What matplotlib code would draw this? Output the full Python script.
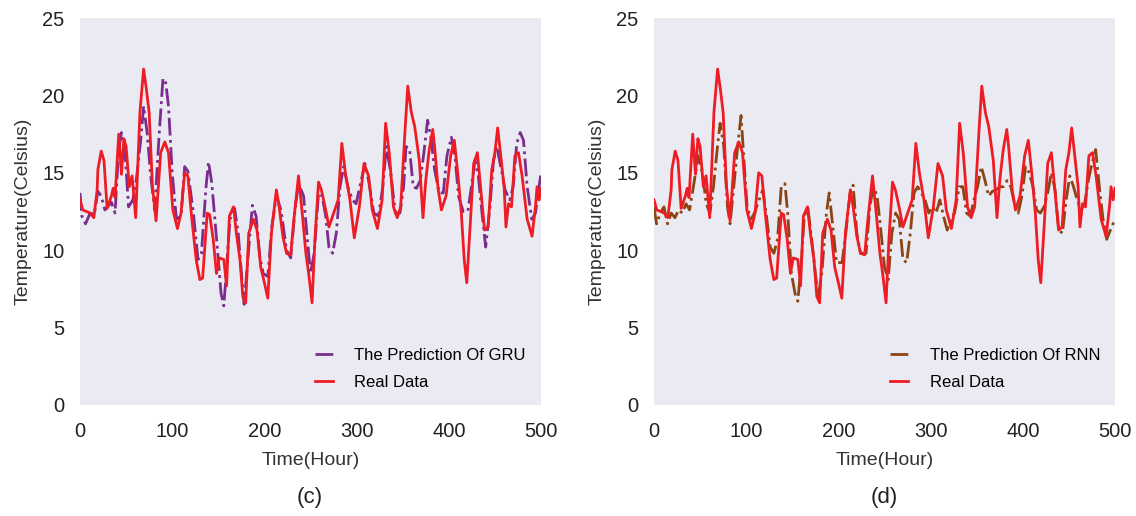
import matplotlib.pyplot as plt

plt.rcParams['font.family'] = ['Liberation Sans', 'DejaVu Sans']

# real temperature (same series in both panels)
real_t = [0, 3, 11, 15, 18.6, 19.4, 23, 26, 29.4, 34, 36, 38, 42, 45, 47.6, 50, 53.5, 56.5, 60.4, 65,
          69, 72, 75, 78.6, 82.5, 87.5, 92, 96, 100.7, 105.7, 109.6, 113.5, 117, 121, 126, 130, 133, 138,
          140.6, 144.5, 148, 151, 156, 159, 162, 166.5, 169.6, 173.5, 176.6, 179.7, 183, 188, 192, 196, 200,
          203.7, 207.6, 213, 216, 220, 224, 228.5, 232, 237, 241, 245, 248, 251.7, 254.8, 258.7, 261.8,
          266.5, 270, 274, 280, 284, 287.8, 292.8, 297.5, 303, 308, 313, 317, 322.6, 327.7, 331.5, 335.4,
          340, 344, 347.8, 352.4, 355.5, 359.4, 363, 368, 372, 375, 378.8, 382.6, 384.6, 388.5, 392, 397,
          402, 406, 410, 413.6, 416.7, 419.5, 423.3, 427, 431, 435, 438.8, 442.7, 446.6, 450, 453, 456,
          460, 462, 464.8, 468, 471.7, 475.6, 479.5, 485, 490.3, 494, 495.7, 498, 500]
real_v = [13.25, 12.6, 12.4, 12.1, 13.9, 15.2, 16.4, 15.8, 12.7, 13.5, 14.0, 13.4, 17.5, 14.9, 17.2, 16.7,
          14.1, 14.8, 12.1, 18.9, 21.7, 20.4, 18.9, 14.1, 11.9, 16.3, 17.0, 16.3, 12.6, 11.4, 12.4, 15.0,
          14.8, 12.2, 9.4, 8.1, 8.2, 12.4, 12.3, 10.7, 8.5, 9.5, 9.4, 7.7, 12.2, 12.8, 11.1, 9.4, 7.0, 6.6,
          11.1, 12.0, 11.3, 8.9, 7.9, 6.9, 11.1, 13.9, 12.8, 10.9, 9.8, 9.7, 12.0, 14.8, 12.4, 9.8, 8.5,
          6.6, 10.7, 14.4, 13.9, 12.6, 11.5, 12.2, 13.25, 16.9, 15.0, 13.25, 10.8, 12.8, 15.6, 14.8, 12.6,
          11.4, 13.25, 18.2, 16.3, 12.8, 12.1, 12.8, 17.6, 20.6, 18.9, 18.0, 15.8, 12.1, 14.5, 16.5, 17.8,
          16.7, 13.9, 12.6, 13.5, 16.1, 17.1, 14.8, 12.4, 9.4, 7.9, 11.7, 15.6, 16.3, 13.7, 11.3, 11.5,
          15.2, 16.3, 17.9, 16.3, 14.1, 11.5, 13.0, 12.8, 16.1, 16.3, 14.8, 12.0, 10.9, 12.8, 14.1, 13.25,
          14.0]

# GRU prediction
gru_t = [0, 2, 6, 11, 15.5, 19.4, 23, 27, 30, 34, 38, 42, 45, 49, 52.7, 57.3, 61, 65.8, 69, 72.8, 76.7,
         81, 86, 90, 93, 96, 100, 104.6, 109.6, 113.5, 117, 123, 128, 131.7, 136.7, 139.4, 143, 146, 150,
         153, 156, 159, 162.7, 167.7, 171.6, 175.4, 178, 182, 187, 191, 195, 198.7, 203.7, 208, 213, 218,
         224, 228.5, 233.5, 237, 242.5, 246, 250, 254, 258.7, 262.6, 266.5, 270, 274, 278, 282, 286, 290.5,
         295.5, 299.4, 305, 309, 313, 318.7, 323.8, 328.4, 332.3, 337, 342, 347, 351, 353.6, 357.5, 361.4,
         365, 369, 373, 377, 381, 384.6, 389.6, 394, 398, 402.8, 406.7, 410.5, 415.6, 420.6, 424.5, 428.4,
         432, 436, 440, 444.6, 448.5, 452, 457, 461, 466, 469.8, 473.7, 477.5, 481, 485, 490, 494, 500]
gru_v = [13.7, 12.2, 11.7, 12.4, 12.3, 13.8, 13.5, 12.6, 12.8, 13.1, 12.4, 16.5, 17.6, 16.1, 12.8, 13.25,
         14.5, 17.1, 19.3, 17.6, 14.8, 12.6, 17.6, 21.1, 20.8, 19.3, 15.0, 12.0, 12.2, 15.4, 15.1, 12.4,
         9.4, 9.8, 14.1, 15.7, 14.3, 12.2, 9.4, 7.2, 6.4, 8.9, 12.0, 12.7, 11.1, 8.3, 6.5, 9.4, 12.9, 12.2,
         9.6, 8.5, 8.3, 11.5, 13.5, 12.6, 10.0, 9.5, 12.8, 14.3, 13.5, 11.1, 8.5, 9.8, 13.7, 13.5, 12.2,
         10.2, 9.8, 11.1, 14.1, 15.4, 14.1, 13.25, 13.0, 14.5, 15.6, 14.5, 12.4, 12.2, 14.1, 16.7, 15.0,
         12.4, 12.4, 14.1, 16.7, 16.5, 14.1, 14.0, 14.5, 16.3, 18.4, 17.1, 15.2, 13.7, 13.7, 16.1, 17.3,
         16.1, 13.5, 12.5, 12.5, 14.1, 15.8, 14.8, 12.4, 10.2, 12.8, 15.8, 16.7, 15.2, 13.9, 13.25, 14.1,
         16.9, 17.6, 17.1, 14.1, 12.0, 12.4, 15.0]

# RNN prediction
rnn_t = [0, 2.8, 6.8, 10.8, 14.7, 18.7, 22.7, 26.7, 30.7, 34.7, 38.6, 43.8, 47.8, 52.6, 56.6, 60.6, 64.5,
         68.5, 71.7, 75.7, 79.7, 82.5, 86.5, 90.4, 94.4, 97.6, 101, 105, 109, 114, 118, 122, 126, 130, 134,
         138, 142, 145, 149, 153, 156, 160, 163, 167, 171, 175, 178, 182, 187, 190, 194, 198, 204, 208,
         212.7, 216, 220, 224, 230, 234, 238, 242, 246, 250, 254, 258, 262, 266, 270, 274, 278, 282, 286,
         290, 294, 298, 302, 306, 310, 314, 318, 322, 326, 331, 335, 339, 343, 347, 351, 355, 359, 363,
         367, 371, 375, 379, 383, 387, 391, 395, 399, 403, 407, 411, 415, 419, 423, 427, 431, 435, 439,
         443, 447, 451, 455, 459, 463, 467, 471, 475, 479, 483, 487, 491, 495, 500]
rnn_v = [12.8, 11.7, 12.4, 12.8, 11.7, 12.4, 12.1, 12.6, 12.4, 13.0, 12.6, 14.5, 16.1, 15.0, 13.0, 12.4,
         14.1, 16.5, 18.2, 16.7, 12.8, 11.7, 14.1, 16.5, 18.7, 15.8, 12.8, 12.0, 12.4, 13.25, 13.9, 12.2,
         10.2, 9.8, 10.7, 14.1, 14.3, 12.4, 8.5, 7.2, 6.7, 9.4, 12.2, 12.7, 10.7, 8.5, 7.0, 8.5, 12.4,
         13.7, 11.5, 9.2, 9.2, 11.1, 13.7, 14.2, 11.1, 9.8, 9.8, 12.8, 14.1, 13.5, 11.3, 8.9, 8.1, 11.1,
         12.4, 12.0, 9.4, 9.2, 11.1, 13.7, 14.1, 13.7, 13.25, 12.4, 12.8, 12.4, 13.25, 12.2, 11.3, 12.0,
         12.4, 14.1, 14.1, 12.4, 12.2, 13.25, 14.1, 15.4, 14.5, 13.5, 13.8, 13.9, 14.1, 14.1, 14.5, 14.1,
         13.0, 12.4, 13.5, 15.4, 15.0, 14.1, 12.6, 12.4, 12.8, 13.7, 15.0, 13.9, 11.3, 11.1, 13.25, 14.8,
         14.1, 13.25, 12.6, 13.0, 14.5, 15.6, 16.5, 14.1, 12.0, 10.7, 11.3, 12.0]

panels = [
    ("The Prediction Of GRU", gru_t, gru_v, '#7b2d8e', "(c)", 80),
    ("The Prediction Of RNN", rnn_t, rnn_v, '#8b4513', "(d)", 654),
]

W, H = 1136, 516
fig = plt.figure(figsize=(W / 100, H / 100), dpi=100)

for label, t, v, col, tag, left in panels:
    ax = fig.add_axes([left / W, (H - 405) / H, 461 / W, 387 / H])
    ax.set_facecolor('#eaeaf2')
    for s in ax.spines.values():
        s.set_visible(False)
    ax.plot(t, v, color=col, ls='-.', lw=2, label=label)
    ax.plot(real_t, real_v, color='#ee1c25', lw=2, label="Real Data")
    ax.set_xlim(0, 500)
    ax.set_ylim(0, 25)
    ax.set_xticks([0, 100, 200, 300, 400, 500])
    ax.set_yticks([0, 5, 10, 15, 20, 25])
    ax.tick_params(length=0, labelsize=14.5, colors='#222222')
    ax.tick_params(axis='x', pad=12)
    ax.tick_params(axis='y', pad=11)
    ax.set_xlabel("Time(Hour)", fontsize=14, color='#333333', labelpad=8)
    ax.set_ylabel("Temperature(Celsius)", fontsize=14, color='#333333', labelpad=8)
    ax.legend(loc='lower right', frameon=False, fontsize=12, bbox_to_anchor=(1.0, 0.0),
              handlelength=1.1, handletextpad=1.3, labelspacing=0.75)
    fig.text((left + 230) / W, 1 - 497 / H, tag, ha='center', va='center', fontsize=16, color='#222222')

fig.savefig("out.png", dpi=100)
